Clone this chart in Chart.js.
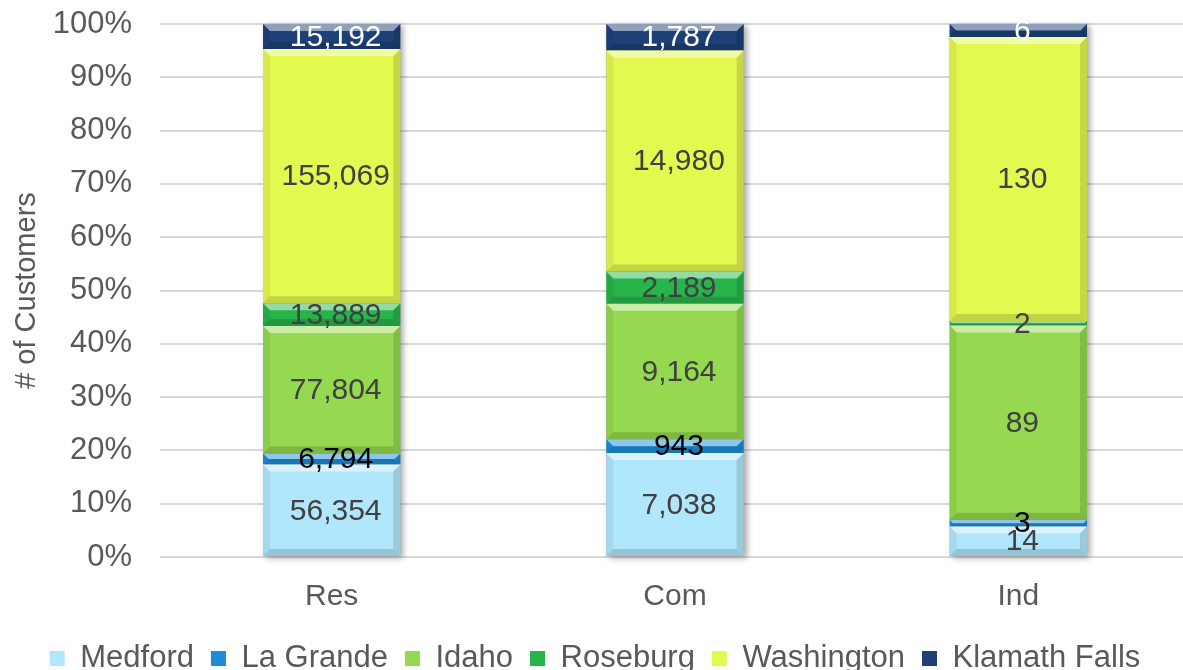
<!DOCTYPE html>
<html>
<head>
<meta charset="utf-8">
<script src="https://cdn.jsdelivr.net/npm/chart.js@4"></script>
<style>
  html, body { margin: 0; padding: 0; background: #fff; overflow: hidden; }
  #wrap { width: 1183px; height: 670px; overflow: hidden; }
</style>
</head>
<body>
<div id="wrap"><canvas id="chart" width="1190" height="684"></canvas></div>
<script>
// customer counts per region and class
const categories = ['Res', 'Com', 'Ind'];
const seriesNames = ['Medford', 'La Grande', 'Idaho', 'Roseburg', 'Washington', 'Klamath Falls'];
const medford = [56354, 7038, 14];
const laGrande = [6794, 943, 3];
const idaho = [77804, 9164, 89];
const roseburg = [13889, 2189, 2];
const washington = [155069, 14980, 130];
const klamathFalls = [15192, 1787, 6];
const yTicks = [0, 10, 20, 30, 40, 50, 60, 70, 80, 90, 100];

const seriesValues = [medford, laGrande, idaho, roseburg, washington, klamathFalls];
const colors = ['#B0E7FC', '#1C8DD8', '#94D94F', '#26B44B', '#E3F94F', '#1D4176'];
const labelColors = ['#404040', '#000000', '#404040', '#404040', '#404040', '#ffffff'];
const FONT = 'Arial, "Liberation Sans", sans-serif';

// 100% stacked: share of each category total
const totals = categories.map((c, i) => seriesValues.reduce((s, arr) => s + arr[i], 0));

const datasets = seriesNames.map((name, k) => ({
    label: name,
    data: seriesValues[k].map((v, i) => v / totals[i] * 100),
    raw: seriesValues[k],
    backgroundColor: colors[k],
    borderWidth: 0,
    barPercentage: 0.4,
    categoryPercentage: 1.0
}));

// soft drop shadow behind each stacked column
const shadowPlugin = {
    id: 'shadow',
    beforeDatasetsDraw(chart) {
        const ctx = chart.ctx;
        const first = chart.getDatasetMeta(0).data;
        const last = chart.getDatasetMeta(chart.data.datasets.length - 1).data;
        ctx.save();
        first.forEach((bar, i) => {
            const top = last[i].y;
            const bottom = bar.base;
            ctx.shadowColor = 'rgba(0,0,0,0.35)';
            ctx.shadowBlur = 6;
            ctx.shadowOffsetX = 3;
            ctx.shadowOffsetY = 2;
            ctx.fillStyle = '#999';
            ctx.fillRect(bar.x - bar.width / 2, top, bar.width, bottom - top);
        });
        ctx.restore();
    }
};

// bevel edges + value labels
const bevelLabelPlugin = {
    id: 'bevelLabels',
    afterDatasetsDraw(chart) {
        const ctx = chart.ctx;
        ctx.save();
        chart.data.datasets.forEach((ds, k) => {
            chart.getDatasetMeta(k).data.forEach((bar) => {
                const l = bar.x - bar.width / 2, r = bar.x + bar.width / 2;
                const t = Math.min(bar.y, bar.base), b = Math.max(bar.y, bar.base);
                const bv = Math.min(7, (b - t) / 2);
                if (bv <= 0) return;
                // top highlight
                ctx.fillStyle = 'rgba(255,255,255,0.5)';
                ctx.beginPath();
                ctx.moveTo(l, t); ctx.lineTo(r, t); ctx.lineTo(r - bv, t + bv); ctx.lineTo(l + bv, t + bv);
                ctx.closePath(); ctx.fill();
                // bottom shade
                ctx.fillStyle = 'rgba(0,0,0,0.15)';
                ctx.beginPath();
                ctx.moveTo(l, b); ctx.lineTo(r, b); ctx.lineTo(r - bv, b - bv); ctx.lineTo(l + bv, b - bv);
                ctx.closePath(); ctx.fill();
                // sides
                ctx.fillStyle = 'rgba(0,0,0,0.06)';
                ctx.beginPath();
                ctx.moveTo(l, t); ctx.lineTo(l + bv, t + bv); ctx.lineTo(l + bv, b - bv); ctx.lineTo(l, b);
                ctx.closePath(); ctx.fill();
                ctx.fillStyle = 'rgba(0,0,0,0.13)';
                ctx.beginPath();
                ctx.moveTo(r, t); ctx.lineTo(r - bv, t + bv); ctx.lineTo(r - bv, b - bv); ctx.lineTo(r, b);
                ctx.closePath(); ctx.fill();
            });
        });
        ctx.font = '30px ' + FONT;
        ctx.textAlign = 'center';
        ctx.textBaseline = 'middle';
        chart.data.datasets.forEach((ds, k) => {
            ctx.fillStyle = labelColors[k];
            chart.getDatasetMeta(k).data.forEach((bar, i) => {
                const txt = ds.raw[i].toLocaleString('en-US');
                ctx.fillText(txt, bar.x + 4, (bar.y + bar.base) / 2 + 1);
            });
        });
        ctx.restore();
    }
};

new Chart(document.getElementById('chart'), {
    type: 'bar',
    data: { labels: categories, datasets: datasets },
    options: {
        responsive: false,
        animation: false,
        layout: { padding: { top: 24, right: 0, left: 0, bottom: 0 } },
        scales: {
            x: {
                stacked: true,
                grid: { display: false },
                border: { display: false },
                ticks: { color: '#595959', font: { family: FONT, size: 30 }, padding: 14 },
                afterFit(scale) { scale.height -= 3; }
            },
            y: {
                stacked: true,
                min: 0,
                max: 100,
                afterBuildTicks(scale) { scale.ticks = yTicks.map(v => ({ value: v })); },
                afterFit(scale) {
                    scale.width = 160;
                    scale.paddingTop = 0;
                    scale.paddingBottom = 0;
                },
                grid: { color: '#D9D9D9', lineWidth: 2, drawTicks: false },
                border: { display: false },
                ticks: {
                    color: '#595959',
                    font: { family: FONT, size: 31 },
                    padding: 28,
                    callback: v => v + '%'
                },
                title: {
                    display: true,
                    text: '# of Customers',
                    color: '#595959',
                    font: { family: FONT, size: 29 },
                    padding: { top: 10, bottom: 0 }
                }
            }
        },
        plugins: {
            legend: {
                position: 'bottom',
                labels: {
                    color: '#595959',
                    font: { family: FONT, size: 31 },
                    boxWidth: 15,
                    boxHeight: 15,
                    padding: 17
                }
            },
            tooltip: { enabled: false }
        }
    },
    plugins: [shadowPlugin, bevelLabelPlugin]
});
</script>
</body>
</html>
